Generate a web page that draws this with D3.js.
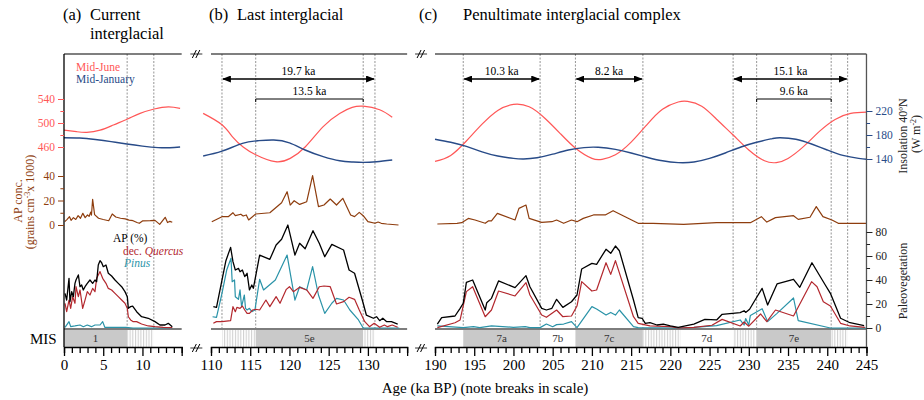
<!DOCTYPE html>
<html>
<head>
<meta charset="utf-8">
<script src="https://cdn.jsdelivr.net/npm/d3@7"></script>
<style>
  body { margin: 0; background: #fff; }
  svg { font-family: "Liberation Serif", "Times New Roman", serif; }
</style>
</head>
<body>
<div id="chart"></div>
<script>
// age windows shown (ka BP), with breaks in between
var windows = [[0, 15], [110, 135], [190, 245]];
var panelTitles = [["(a)", "Current", "interglacial"], ["(b)", "Last interglacial"], ["(c)", "Penultimate interglacial complex"]];

// mid-June insolation 40N (W m-2), [age, value]
var juneA = [[0,488],[1.6,485.5],[2.9,484.4],[4.6,488],[6.3,496.7],[8.1,506.7],[9.7,516],[11.5,523.3],[13.3,527],[14.8,524.5]];
var juneB = [[109,516],[111.4,497],[112.8,476],[114.1,460],[115.7,447],[118.2,435.5],[120.1,441],[122,460],[124.3,494],[126.4,516],[128,526],[129.4,528],[131.5,522],[133.1,509.5]];
var juneC = [[190,436],[192,446],[194,470],[196,498],[198,521],[200,531],[202,527],[204,508],[206,482],[208,457],[210,441],[211.3,439.5],[213,447],[215,468],[217,497],[219,523],[221,535],[222.2,536],[224,528],[226,505],[228,480],[230,455],[232,437],[233.5,434],[235,441],[237,461],[239,486],[241,506],[243,516],[245,518]];

// mid-January insolation 40N (W m-2)
var janA = [[0,175.5],[2,175],[4,172.5],[6,169],[8,165],[10,161.5],[12,159],[13.5,158.8],[14.8,160]];
var janB = [[109,145],[111.4,153],[114,166],[116,170.5],[118,171.7],[120,167],[122,155],[124.3,144],[126.4,137],[128,135],[129.4,134.4],[131.1,135.5],[133.1,138.3]];
var janC = [[190,173],[192,168],[194,161],[196,152],[198,145],[200,141],[201.3,140],[203,142],[205,148],[207,155],[209,159],[210.8,159.5],[213,156],[215,150],[217,143],[219,137],[221,134],[223,135],[225,141],[227,150],[229,160],[231,168],[233,174],[234,175.5],[236,173],[238,165],[240,155],[242,146],[244,141],[245,139.5]];

// AP concentration (grains cm-3 x 1000)
var concA = [[0.1,2.7],[0.4,4.6],[0.7,6.8],[0.9,3.8],[1.2,6.0],[1.5,4.5],[1.8,7.6],[2.1,5.5],[2.4,9.5],[2.7,6.0],[3.0,8.2],[3.2,7.0],[3.4,10.5],[3.5,8.0],[3.65,21],[3.9,8.5],[4.4,5.5],[5.0,4.5],[5.7,3.5],[6.15,9.0],[6.6,6.5],[7.2,5.5],[7.8,5.0],[8.3,4.0],[8.8,3.5],[9.3,2.0],[9.6,1.4],[10.0,3.3],[11.0,3.5],[11.6,3.8],[12.2,0.5],[12.9,6.3],[13.2,2.0],[13.5,3.0],[13.8,2.2]];
var concB = [[110.1,2.7],[111.4,6.8],[112.2,6.8],[112.8,10.0],[113.1,7.6],[113.8,8.8],[114.1,7.3],[114.5,8.2],[114.8,4.1],[115.7,9.0],[117.5,10.0],[119.0,18.2],[119.7,27.2],[120.1,16.3],[120.6,19.8],[121.3,16.8],[122.2,19.0],[122.95,40.3],[123.7,15.0],[124.4,16.3],[125.2,21.2],[126.0,16.3],[126.8,21.8],[127.8,8.2],[128.3,6.8],[128.9,10.3],[129.4,7.6],[130.0,2.7],[130.9,1.4],[131.3,2.4],[131.7,1.4],[132.4,0.8],[133.9,0.0]];
var concC = [[190.3,0.8],[192.8,1.4],[193.4,1.9],[194.25,5.4],[195.1,4.1],[196.4,1.4],[196.8,3.3],[197.2,3.3],[197.95,9.5],[200.2,4.1],[200.7,13.6],[201.6,16.3],[202.0,5.4],[203.6,2.2],[204.9,2.7],[205.5,4.1],[206.4,1.4],[207.4,4.1],[208.1,2.7],[208.9,5.4],[210.2,8.2],[211.7,8.2],[212.7,11.7],[215.9,1.4],[217.8,1.4],[221.7,0.5],[225.9,1.9],[230.2,1.9],[231.6,6.8],[232.3,2.4],[233.4,6.0],[235.7,7.6],[236.3,4.6],[237.8,6.3],[238.6,15.0],[239.45,6.8],[240.6,4.1],[241.4,1.4],[245,1.4]];

// arboreal pollen (%)
var apA = [[0.13,28.9],[0.34,23.3],[0.64,41.4],[0.76,21.9],[0.98,30.3],[1.19,26.1],[1.4,37.2],[1.53,40],[1.83,44.2],[2.04,34.4],[2.25,35.8],[2.46,31.7],[2.68,34.4],[2.97,37.2],[3.31,40],[3.65,37.2],[3.95,40],[4.16,38.6],[4.37,52.5],[4.59,56.1],[4.8,54.4],[5.01,51.1],[5.35,52.5],[5.65,45.6],[6.07,43.3],[6.5,40],[6.92,37.2],[7.35,34.4],[7.77,30.3],[8.07,26.1],[8.2,16.4],[8.49,17.8],[8.75,18.3],[9.26,13.6],[9.89,9.4],[10.74,8.1],[11.6,5.3],[12.23,2.5],[12.87,2.5],[13.29,3.9],[13.8,1.1]];
var apB = [[110.3,17.8],[110.7,17.2],[111.9,56.1],[112.5,67.2],[112.8,55.3],[113.1,48.3],[113.5,49.7],[113.7,46.9],[114.0,48.3],[114.3,42.8],[114.6,45.6],[114.9,31.7],[115.2,35.8],[115.4,33.1],[116.2,60.8],[117.5,57.2],[118.3,69.2],[119.0,73.9],[119.8,85.8],[120.7,60.8],[121.3,70.6],[122.0,66],[123.0,81.1],[123.8,70.6],[124.5,59.4],[125.4,69.7],[126.9,65],[127.6,48.3],[128.3,45.6],[129.4,20.6],[129.8,10.8],[130.7,8.1],[131.1,9.4],[131.5,6.1],[131.9,8.1],[132.4,5.3],[133.0,5.3],[133.8,3.3]];
var apC = [[190.3,3.3],[190.85,8.6],[192.55,10.0],[193.2,16.4],[193.6,20.6],[194.0,38.1],[194.8,40],[196.4,15],[196.6,21.1],[197.2,24.7],[198.1,39.2],[200.2,33.6],[201.6,43.6],[202.1,34.4],[203.6,16.4],[204.2,15],[204.9,16.4],[205.5,23.9],[206.3,17.2],[207.4,21.9],[208.1,27.5],[208.7,49.2],[210.0,53.9],[210.6,53.1],[211.8,65.6],[212.4,62.2],[213.0,68.3],[213.5,64.4],[215.3,23.3],[215.9,8.6],[216.4,8.1],[216.8,3.9],[217.4,4.4],[218.3,2.5],[219.1,3.3],[220.0,1.7],[221.0,0.6],[223.0,3.3],[224.4,7.2],[225.9,6.7],[226.6,11.4],[228.9,12.8],[229.4,14.4],[229.6,13],[230.1,15.6],[230.8,23.3],[231.7,33],[232.4,19.2],[233.6,36.7],[235.7,40.6],[236.5,33.9],[238.05,54.4],[239.75,35.8],[240.4,28.9],[241.7,8.1],[242.9,4.4],[244.7,2.0]];

// deciduous Quercus (%)
var quercusA = [[0.13,20.6],[0.34,13.6],[0.64,23.3],[0.85,16.4],[1.1,26.1],[1.4,20.6],[1.53,34.4],[1.83,26.1],[2.04,31.7],[2.38,16.4],[2.68,23.3],[2.97,30.3],[3.31,27.5],[3.65,33],[3.95,30.3],[4.16,41.4],[4.37,44.2],[4.59,47],[4.93,41.4],[5.35,37.2],[5.65,33],[6.07,31.7],[6.5,28.9],[6.92,26.1],[7.35,23.3],[7.77,20.6],[8.07,16.4],[8.2,9.4],[8.49,6.7],[8.83,5.3],[9.26,5.3],[9.89,3.3],[10.74,1.7],[11.6,1.1],[12.65,0.6],[13.8,0.3]];
var quercusB = [[110.3,3.9],[110.7,5.3],[111.4,5.3],[112.5,6.1],[112.8,17.8],[113.1,13.6],[113.3,17.2],[113.7,16.4],[114.0,18.3],[114.3,15],[114.6,12.2],[114.9,12.2],[115.3,15],[115.7,15.6],[116.2,15],[117.0,23.3],[117.5,17.8],[118.3,26.1],[118.8,20.6],[119.6,32.2],[120.0,34.4],[120.5,30.3],[121.3,33.9],[122.2,31.7],[123.0,24.7],[123.8,34.4],[124.4,35],[125.2,34.4],[126.0,20],[126.9,22],[127.6,25.6],[128.3,23.9],[128.9,15],[129.6,5.3],[130.2,1.1],[130.8,3.9],[131.5,0.6],[132.1,2.5],[132.5,1.1],[133.1,2.5],[133.8,0.6]];
var quercusC = [[190.3,0.3],[192.55,4.4],[193.2,6.7],[194.0,30.3],[194.8,34.4],[196.4,9.4],[197.2,15],[198.1,30.8],[200.2,26.7],[201.6,37.8],[202.1,27.5],[203.6,10.8],[204.2,8.9],[205.5,15],[206.3,9.4],[207.4,10],[208.1,18.3],[208.7,38.6],[210.0,30.8],[210.6,31.7],[211.8,54.4],[212.4,44.7],[213.0,56.1],[215.3,9.4],[215.9,3.9],[217.4,1.7],[220.0,1.1],[221.0,0],[223.0,0.6],[225.3,2.3],[226.6,7.2],[228.9,1.7],[229.4,5],[230.0,1.5],[231.5,11.7],[232.3,5.3],[233.4,15],[235.7,10],[238.0,38.6],[238.7,34.4],[239.5,21.9],[240.4,18.3],[241.7,3.9],[242.9,1.7],[244.8,0.6]];

// Pinus (%)
var pinusA = [[0.13,0.6],[0.64,5.3],[0.85,1.1],[1.4,1.7],[2.04,2.5],[2.46,1.1],[2.97,2.5],[3.5,1.1],[3.95,2.5],[4.59,2.5],[4.93,5.3],[5.2,0.6],[6.07,0.6],[7.9,0.6],[8.8,0],[10.9,0],[13.8,0]];
var pinusB = [[110.2,9.4],[110.7,8.9],[111.4,28.9],[112.0,48.3],[112.55,58.1],[112.7,38.6],[113.0,40],[113.1,26.1],[113.5,23.9],[113.7,31.7],[113.9,17.8],[114.25,27.5],[114.4,16.4],[114.6,15],[114.9,16.4],[115.2,13.6],[115.6,15],[116.2,40.6],[116.7,31.7],[118.2,40],[119.7,60.8],[120.7,23.3],[121.3,34.4],[122.2,31.7],[122.95,51.1],[123.7,27.5],[124.5,12.2],[125.4,20.6],[126.0,24.7],[126.9,23.3],[127.7,15],[128.8,6.7],[129.4,0],[134,0]];
var pinusC = [[190.3,1.7],[193.6,0.3],[194.9,1.1],[195.7,0.3],[197.2,1.7],[200.0,0.6],[201.5,1.1],[202.1,0.3],[203.4,0.3],[204.2,3.3],[205.0,1.1],[205.5,2.8],[206.4,3.3],[207.4,5.3],[208.1,0.3],[210.0,17.8],[210.6,15.8],[211.8,10.8],[212.4,13],[213.0,10.8],[213.5,15],[215.3,1.1],[215.9,0.3],[221.0,0],[223.0,0.6],[225.9,2],[228.9,6.7],[229.4,2.5],[229.6,7.8],[230.0,2.5],[230.2,10.5],[231.7,16.1],[232.4,5.3],[233.6,12.2],[235.7,25],[236.3,6.1],[240.4,0],[245,0]];

// marine isotope stages
var misFrom  = [0,     8.05,    111.4,   115.7,   129.4,   190,     193.6,   203.4,   207.9,   216.5,   221.3,   228,     231,     240.5];
var misTo    = [8.05,  11.45,   115.7,   129.4,   130.9,   193.6,   203.4,   207.9,   216.5,   221.3,   228,     231,     240.5,   242.6];
var misKind  = ["stage","hatch","hatch", "stage", "hatch", "white", "stage", "white", "stage", "hatch", "white", "hatch", "stage", "hatch"];
var misLabel = ["1",   "",      "",      "5e",    "",      "",      "7a",    "7b",    "7c",    "",      "7d",    "",      "7e",    ""];

// stage boundaries (dashed) and duration brackets
var boundaries = [8.05, 11.45, 111.4, 115.7, 129.4, 130.9, 193.6, 203.4, 207.9, 216.5, 228, 231, 240.5, 242.6];
var spanFrom  = [111.4, 115.7, 193.6, 207.9, 228, 231];
var spanTo    = [130.9, 129.4, 203.4, 216.5, 242.6, 240.5];
var spanLabel = ["19.7 ka", "13.5 ka", "10.3 ka", "8.2 ka", "15.1 ka", "9.6 ka"];
var spanRow   = [0, 1, 0, 0, 0, 1];

var juneSeries = [juneA, juneB, juneC], janSeries = [janA, janB, janC], concSeries = [concA, concB, concC];
var apSeries = [apA, apB, apC], quercusSeries = [quercusA, quercusB, quercusC], pinusSeries = [pinusA, pinusB, pinusC];

var colJune = "#ff5757", colJan = "#284b88", colConc = "#8e3d0e", colQuercus = "#b3282e", colPinus = "#2a93a8";

var width = 924, height = 400;
var topY = 54, axisY = 347, misTop = 330;
var pxPerKa = 7.845;
var panelLeft = [64, 211, 435];

var svg = d3.select("#chart").append("svg")
    .attr("width", width)
    .attr("height", height);

var defs = svg.append("defs");
var hatch = defs.append("pattern").attr("id", "hatch")
    .attr("patternUnits", "userSpaceOnUse").attr("width", 2.7).attr("height", 10);
hatch.append("rect").attr("width", 2.7).attr("height", 10).attr("fill", "#fff");
hatch.append("line").attr("x1", 0.6).attr("x2", 0.6).attr("y1", 0).attr("y2", 10)
    .attr("stroke", "#c4c4c4").attr("stroke-width", 0.9);
defs.append("marker").attr("id", "arrow")
    .attr("viewBox", "0 0 10 8").attr("refX", 9).attr("refY", 4)
    .attr("markerWidth", 9).attr("markerHeight", 7).attr("markerUnits", "userSpaceOnUse")
    .attr("orient", "auto-start-reverse")
  .append("path").attr("d", "M0,0 L10,4 L0,8 Z").attr("fill", "#000");

// scales
var xs = windows.map(function (w, i) {
    return d3.scaleLinear().domain(w).range([panelLeft[i], panelLeft[i] + (w[1] - w[0]) * pxPerKa]);
});
var yJune = d3.scaleLinear().domain([460, 540]).range([147, 99]);
var yJan = d3.scaleLinear().domain([140, 220]).range([159, 111]);
var yConc = d3.scaleLinear().domain([0, 40]).range([225, 176]);
var yVeg = d3.scaleLinear().domain([0, 80]).range([328, 232]);
var rightX = xs[2].range()[1];

function panelOf(age) {
    for (var i = 0; i < windows.length; i++) if (age >= windows[i][0] && age <= windows[i][1]) return i;
    return 0;
}

// MIS bar
misFrom.forEach(function (f, k) {
    var x = xs[panelOf(f)];
    var kind = misKind[k];
    svg.append("rect")
        .attr("x", x(f)).attr("y", misTop)
        .attr("width", x(misTo[k]) - x(f)).attr("height", axisY - misTop)
        .attr("fill", kind === "stage" ? "#c9c9c9" : kind === "hatch" ? "url(#hatch)" : "#fff");
    if (misLabel[k]) {
        svg.append("text")
            .attr("x", (x(f) + x(misTo[k])) / 2).attr("y", misTop + 12)
            .attr("text-anchor", "middle").attr("font-size", 11).attr("fill", "#333")
            .text(misLabel[k]);
    }
});
svg.append("text").attr("x", 30).attr("y", 344).attr("font-size", 15).text("MIS");

// stage boundaries
boundaries.forEach(function (b) {
    var x = xs[panelOf(b)](b);
    svg.append("line")
        .attr("x1", x).attr("x2", x).attr("y1", topY).attr("y2", misTop)
        .attr("stroke", "#7a7a7a").attr("stroke-width", 0.8).attr("stroke-dasharray", "2,1.5");
});

// duration brackets
spanFrom.forEach(function (f, k) {
    var x = xs[panelOf(f)];
    var y = spanRow[k] === 0 ? 79 : 99;
    var x1 = x(f), x2 = x(spanTo[k]);
    if (spanRow[k] === 0) {
        svg.append("line").attr("x1", x1 + 1).attr("x2", x2 - 1).attr("y1", y).attr("y2", y)
            .attr("stroke", "#000").attr("stroke-width", 1.4)
            .attr("marker-start", "url(#arrow)").attr("marker-end", "url(#arrow)");
    } else {
        svg.append("path")
            .attr("d", "M" + x1 + "," + (y + 3) + "V" + y + "H" + x2 + "V" + (y + 3))
            .attr("fill", "none").attr("stroke", "#000").attr("stroke-width", 1);
    }
    svg.append("text").attr("x", (x1 + x2) / 2).attr("y", y - 4)
        .attr("text-anchor", "middle").attr("font-size", 11.5).text(spanLabel[k]);
});

// series
function drawLine(data, x, y, color, curve, w) {
    svg.append("path")
        .datum(data)
        .attr("d", d3.line().x(function (d) { return x(d[0]); }).y(function (d) { return y(d[1]); }).curve(curve))
        .attr("fill", "none").attr("stroke", color).attr("stroke-width", w)
        .attr("stroke-linejoin", "round");
}

xs.forEach(function (x, i) {
    var r = x.range();
    // zero line of vegetation
    svg.append("line").attr("x1", r[0]).attr("x2", r[1]).attr("y1", yVeg(0) + 1).attr("y2", yVeg(0) + 1)
        .attr("stroke", "#7d7d7d").attr("stroke-width", 2);
    drawLine(juneSeries[i], x, yJune, colJune, d3.curveNatural, 1.2);
    drawLine(janSeries[i], x, yJan, colJan, d3.curveNatural, 1.4);
    drawLine(concSeries[i], x, yConc, colConc, d3.curveLinear, 1.2);
    drawLine(pinusSeries[i], x, yVeg, colPinus, d3.curveLinear, 1.2);
    drawLine(quercusSeries[i], x, yVeg, colQuercus, d3.curveLinear, 1.2);
    drawLine(apSeries[i], x, yVeg, "#000", d3.curveLinear, 1.3);

    // top frame
    svg.append("line").attr("x1", r[0]).attr("x2", r[1]).attr("y1", topY).attr("y2", topY)
        .attr("stroke", "#000").attr("stroke-width", 1.2);

    // bottom axis
    var w = windows[i];
    var last = i === 2 ? w[1] : w[1] - 5;
    var ax = svg.append("g").attr("transform", "translate(0," + axisY + ")")
        .call(d3.axisBottom(x).tickValues(d3.range(w[0], w[1] + 1)).tickSizeOuter(0).tickSize(6)
            .tickFormat(function (d) { return d % 5 === 0 && d <= last ? d : ""; }));
    ax.select(".domain").attr("stroke-width", 1.4);
    ax.selectAll(".tick line").attr("stroke-width", 1.3)
        .attr("y2", function (d) { return d % 5 === 0 ? 9 : 6; });
    ax.selectAll(".tick text").attr("font-family", "Liberation Serif").attr("font-size", 15).attr("dy", "0.95em");
});

// scale breaks
function drawBreak(x, y) {
    svg.append("line").attr("x1", x - 6).attr("x2", x + 6).attr("y1", y).attr("y2", y)
        .attr("stroke", "#fff").attr("stroke-width", 4);
    svg.append("line").attr("x1", x - 6).attr("x2", x + 6).attr("y1", y).attr("y2", y)
        .attr("stroke", "#000").attr("stroke-width", 0.8);
    [-2, 1.5].forEach(function (o) {
        svg.append("line").attr("x1", x + o - 2).attr("x2", x + o + 2).attr("y1", y + 4).attr("y2", y - 4)
            .attr("stroke", "#000").attr("stroke-width", 1);
    });
}
[0, 1].forEach(function (i) {
    var mid = (xs[i].range()[1] + xs[i + 1].range()[0]) / 2;
    drawBreak(mid, topY);
    drawBreak(mid, axisY + 1);
});

// left and right frame lines
svg.append("line").attr("x1", 64).attr("x2", 64).attr("y1", topY).attr("y2", axisY)
    .attr("stroke", "#000").attr("stroke-width", 1.3);
svg.append("line").attr("x1", rightX).attr("x2", rightX).attr("y1", topY).attr("y2", axisY)
    .attr("stroke", "#555").attr("stroke-width", 1.3);

function styleAxis(g, color) {
    g.select(".domain").remove();
    g.selectAll(".tick line").attr("stroke", color).attr("stroke-width", 1);
    g.selectAll(".tick text").attr("fill", color).attr("font-family", "Liberation Serif").attr("font-size", 11.5);
    g.selectAll(".tick").filter(function () { return d3.select(this).select("text").text() === ""; })
        .select("line").attr("x2", function () { return +d3.select(this).attr("x2") * 0.6; });
}

var gl = svg.append("g").attr("transform", "translate(64,0)");
gl.append("g").call(d3.axisLeft(yJune).tickValues([460, 480, 500, 520, 540]).tickSize(6)
    .tickFormat(function (d) { return (d - 460) % 40 === 0 ? d : ""; })).call(styleAxis, colJune);
gl.append("g").call(d3.axisLeft(yConc).tickValues([0, 10, 20, 30, 40]).tickSize(6)
    .tickFormat(function (d) { return d % 20 === 0 ? d : ""; })).call(styleAxis, colConc);

var gr = svg.append("g").attr("transform", "translate(" + rightX + ",0)");
gr.append("g").call(d3.axisRight(yJan).tickValues([140, 160, 180, 200, 220]).tickSize(6)
    .tickFormat(function (d) { return (d - 140) % 40 === 0 ? d : ""; })).call(styleAxis, colJan);
gr.append("g").call(d3.axisRight(yVeg).tickValues(d3.range(0, 81, 10)).tickSize(6)
    .tickFormat(function (d) { return d % 20 === 0 ? d : ""; })).call(styleAxis, "#222");

// axis titles
var lt = svg.append("text").attr("transform", "translate(22,201) rotate(-90)")
    .attr("text-anchor", "middle").attr("font-size", 12).attr("fill", colConc).text("AP conc.");
var lt2 = svg.append("text").attr("transform", "translate(34,202) rotate(-90)")
    .attr("text-anchor", "middle").attr("font-size", 12).attr("fill", colConc);
lt2.append("tspan").text("(grains cm");
lt2.append("tspan").attr("font-size", 8).attr("dy", -4).text("-3");
lt2.append("tspan").attr("dy", 4).text("x 1000)");

svg.append("text").attr("transform", "translate(907,136) rotate(-90)")
    .attr("text-anchor", "middle").attr("font-size", 12).attr("fill", "#222").text("Insolation 40ºN");
var rt = svg.append("text").attr("transform", "translate(920,134) rotate(-90)")
    .attr("text-anchor", "middle").attr("font-size", 12).attr("fill", "#222");
rt.append("tspan").text("(W m");
rt.append("tspan").attr("font-size", 8).attr("dy", -4).text("-2");
rt.append("tspan").attr("dy", 4).text(")");
svg.append("text").attr("transform", "translate(907,281) rotate(-90)")
    .attr("text-anchor", "middle").attr("font-size", 12).attr("fill", "#222").text("Paleovegetation");

svg.append("text").attr("x", 485).attr("y", 393).attr("text-anchor", "middle")
    .attr("font-size", 15).text("Age (ka BP) (note breaks in scale)");

// legends
svg.append("text").attr("x", 76).attr("y", 71).attr("font-size", 11.5).attr("fill", colJune).text("Mid-June");
svg.append("text").attr("x", 76).attr("y", 83).attr("font-size", 11.5).attr("fill", colJan).text("Mid-January");
svg.append("text").attr("x", 113).attr("y", 242).attr("font-size", 11.5).attr("fill", "#000").text("AP (%)");
var lq = svg.append("text").attr("x", 123).attr("y", 255).attr("font-size", 11.5).attr("fill", colQuercus);
lq.append("tspan").text("dec. ");
lq.append("tspan").attr("font-style", "italic").text("Quercus");
svg.append("text").attr("x", 124).attr("y", 267).attr("font-size", 11.5).attr("fill", colPinus)
    .attr("font-style", "italic").text("Pinus");

// panel titles
panelTitles.forEach(function (t, i) {
    var x0 = [63, 209, 419][i], x1 = [90, 237, 463][i];
    svg.append("text").attr("x", x0).attr("y", 20).attr("font-size", 16.5).text(t[0]);
    svg.append("text").attr("x", x1).attr("y", 20).attr("font-size", 16.5).text(t[1]);
    if (t[2]) svg.append("text").attr("x", x1).attr("y", 39).attr("font-size", 16.5).text(t[2]);
});
</script>
</body>
</html>
